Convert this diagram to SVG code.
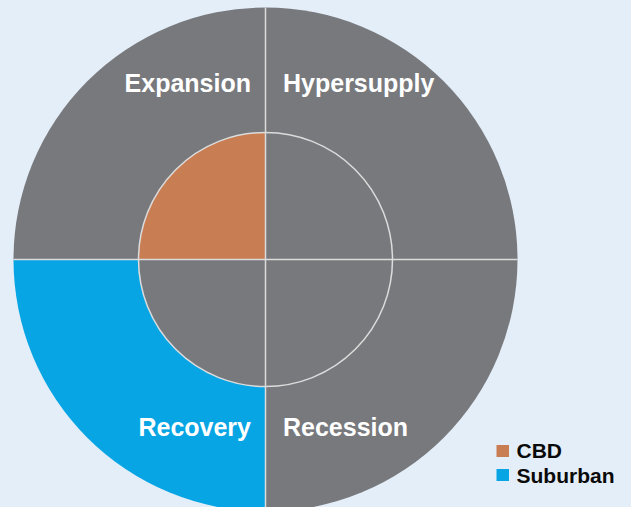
<svg xmlns="http://www.w3.org/2000/svg" width="631" height="507" viewBox="0 0 631 507">
  <style>
    .gray { fill: #78797d; }
    .cbd { fill: #c87d52; }
    .sub { fill: #08a5e5; }
    .rule { stroke: #dcdcdc; stroke-width: 1.5; fill: none; }
    .phase { font-family: "Liberation Sans", Arial, sans-serif; font-weight: bold; font-size: 25px; fill: #ffffff; }
    .key { font-family: "Liberation Sans", Arial, sans-serif; font-weight: bold; font-size: 21px; fill: #0a0a0a; }
  </style>
  <rect x="0" y="0" width="631" height="507" fill="#e4eef8"/>

  <!-- Outer ring quadrants (center 265.5,259.5; r=252) -->
  <g id="expansion">
    <path class="gray" d="M265.5,259.5 L13.5,259.5 A252,252 0 0 1 265.5,7.5 Z"/>
    <text class="phase" x="251" y="92" text-anchor="end">Expansion</text>
  </g>
  <g id="hypersupply">
    <path class="gray" d="M265.5,259.5 L265.5,7.5 A252,252 0 0 1 517.5,259.5 Z"/>
    <text class="phase" x="283" y="92">Hypersupply</text>
  </g>
  <g id="recession">
    <path class="gray" d="M265.5,259.5 L517.5,259.5 A252,252 0 0 1 265.5,511.5 Z"/>
    <text class="phase" x="283" y="436">Recession</text>
  </g>
  <g id="recovery">
    <path class="sub" d="M265.5,259.5 L265.5,511.5 A252,252 0 0 1 13.5,259.5 Z"/>
    <text class="phase" x="251" y="436" text-anchor="end">Recovery</text>
  </g>

  <!-- Inner ring quadrants (r=127) -->
  <g id="inner-ring">
    <path class="cbd" d="M265.5,259.5 L138.5,259.5 A127,127 0 0 1 265.5,132.5 Z"/>
    <path class="gray" d="M265.5,259.5 L265.5,132.5 A127,127 0 0 1 392.5,259.5 Z"/>
    <path class="gray" d="M265.5,259.5 L392.5,259.5 A127,127 0 0 1 265.5,386.5 Z"/>
    <path class="gray" d="M265.5,259.5 L265.5,386.5 A127,127 0 0 1 138.5,259.5 Z"/>
    <circle class="rule" cx="265.5" cy="259.5" r="127"/>
  </g>

  <!-- Dividing axes -->
  <g id="connectors">
    <line class="rule" x1="265.5" y1="7.5" x2="265.5" y2="511.5"/>
    <line class="rule" x1="13.5" y1="259.5" x2="517.5" y2="259.5"/>
  </g>

  <!-- Legend -->
  <g id="legend">
    <rect class="cbd" x="496.5" y="445" width="12.5" height="12"/>
    <text class="key" x="516.5" y="458">CBD</text>
    <rect class="sub" x="496.5" y="469" width="12.5" height="12"/>
    <text class="key" x="516.5" y="483">Suburban</text>
  </g>
</svg>
